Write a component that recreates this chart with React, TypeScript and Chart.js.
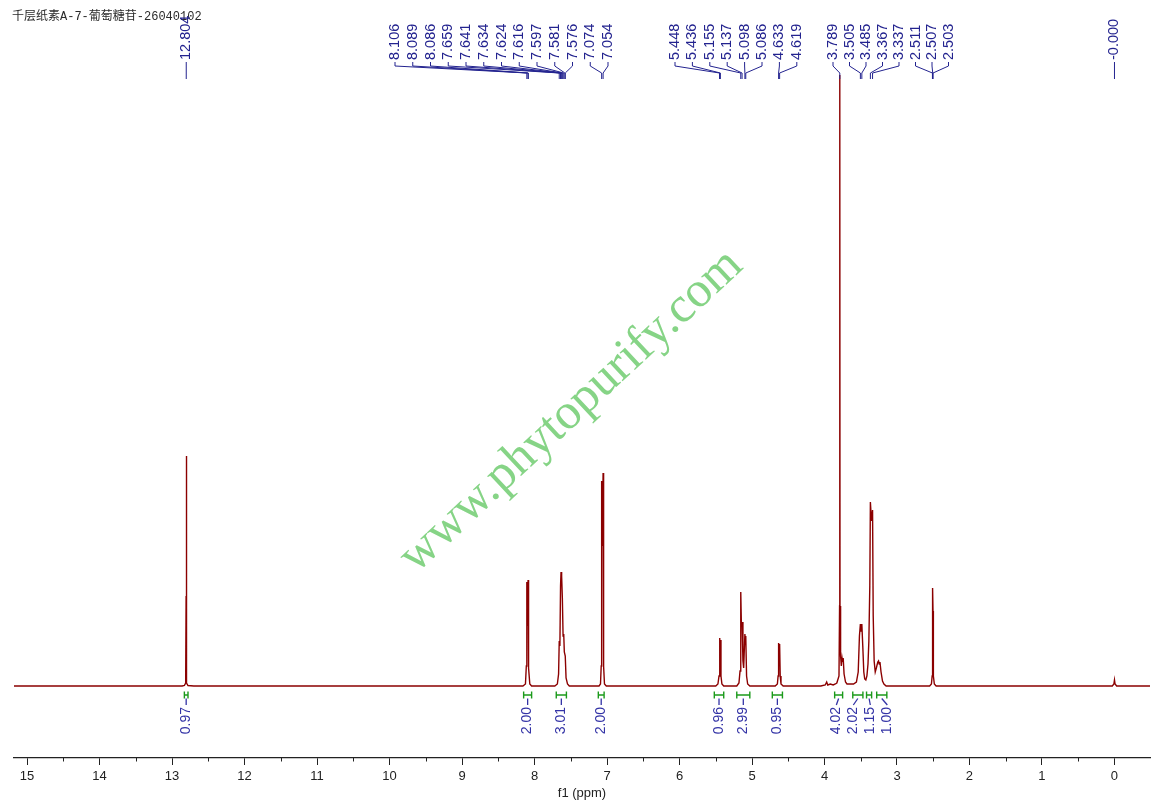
import React, { useEffect, useRef } from 'react';
import { Chart, registerables } from 'chart.js';

Chart.register(...registerables);

// ---------- text ----------
const TITLE = '千层纸素A-7-葡萄糖苷-26040102';
const WATERMARK = 'www.phytopurify.com';
const X_TITLE = 'f1 (ppm)';

// ---------- axis ranges ----------
const X_MIN = -0.49;
const X_MAX = 15.18;
const Y_MIN = -72;
const Y_MAX = 611;
const X_TICKS = [15, 14, 13, 12, 11, 10, 9, 8, 7, 6, 5, 4, 3, 2, 1, 0];

// ---------- spectrum segments: [ppm, intensity] ----------
const BASE_START = [[15.18, 0], [12.86, 0]];
const PEAK_1280 = [[12.83, 0.5], [12.812, 3], [12.806, 90], [12.804, 230], [12.801, 150], [12.796, 3], [12.78, 0.5]];
const BASE_A = [[12.7, 0], [8.2, 0]];
const PEAK_810 = [[8.16, 0], [8.125, 2], [8.113, 20], [8.106, 104], [8.098, 60], [8.089, 106], [8.086, 100], [8.078, 18], [8.065, 2], [8.04, 0]];
const PEAK_762 = [[7.72, 0], [7.685, 2], [7.668, 12], [7.659, 45], [7.65, 40], [7.641, 100], [7.634, 114], [7.628, 108], [7.624, 110], [7.616, 88], [7.606, 50], [7.597, 52], [7.589, 34], [7.581, 34], [7.576, 30], [7.565, 8], [7.545, 2], [7.52, 0]];
const PEAK_706 = [[7.11, 0], [7.09, 2], [7.08, 20], [7.074, 205], [7.064, 140], [7.054, 213], [7.047, 20], [7.035, 2], [7.01, 0]];
const PEAK_544 = [[5.5, 0], [5.47, 2], [5.455, 10], [5.448, 48], [5.442, 38], [5.436, 46], [5.428, 10], [5.415, 2], [5.39, 0]];
const PEAK_512 = [[5.21, 0], [5.18, 3], [5.165, 15], [5.155, 94], [5.146, 60], [5.137, 64], [5.125, 25], [5.115, 18], [5.098, 52], [5.092, 42], [5.086, 50], [5.075, 10], [5.06, 2], [5.03, 0]];
const PEAK_463 = [[4.68, 0], [4.65, 2], [4.64, 10], [4.633, 43], [4.626, 33], [4.619, 42], [4.611, 10], [4.6, 2], [4.57, 0]];
const BASE_B = [[4.05, 0], [3.99, 1], [3.97, 4], [3.955, 1], [3.92, 2], [3.88, 1], [3.85, 2]];
const PEAK_379 = [[3.83, 3], [3.8, 10], [3.792, 80], [3.789, 611], [3.786, 80], [3.778, 30], [3.768, 20], [3.758, 28], [3.75, 24], [3.742, 28], [3.73, 12], [3.71, 4], [3.69, 2], [3.66, 2], [3.6, 2]];
const PEAK_350 = [[3.56, 4], [3.535, 14], [3.518, 50], [3.505, 62], [3.495, 55], [3.485, 62], [3.472, 40], [3.458, 14], [3.445, 7], [3.43, 6]];
const PEAK_335 = [[3.415, 10], [3.4, 22], [3.388, 45], [3.375, 100], [3.367, 184], [3.352, 165], [3.337, 176], [3.328, 70], [3.315, 25], [3.3, 14]];
const PEAK_324 = [[3.285, 18], [3.265, 24], [3.255, 25], [3.245, 22], [3.235, 24], [3.22, 14], [3.2, 5], [3.18, 2], [3.15, 0]];
const BASE_C = [[2.6, 0]];
const PEAK_251 = [[2.55, 0], [2.525, 2], [2.515, 10], [2.511, 60], [2.507, 98], [2.503, 75], [2.498, 10], [2.485, 2], [2.46, 0]];
const BASE_D = [[0.1, 0]];
const PEAK_000 = [[0.03, 0], [0.008, 2], [0.0, 6], [-0.008, 2], [-0.03, 0], [-0.49, 0]];

const SPECTRUM = [
  BASE_START, PEAK_1280, BASE_A, PEAK_810, PEAK_762, PEAK_706, PEAK_544, PEAK_512,
  PEAK_463, BASE_B, PEAK_379, PEAK_350, PEAK_335, PEAK_324, BASE_C, PEAK_251, BASE_D, PEAK_000,
].flat();

// ---------- peak picking labels ----------
const PEAKS_SINGLE_1 = ['12.804'];
const PEAKS_GROUP_A = ['8.106', '8.089', '8.086', '7.659', '7.641', '7.634', '7.624', '7.616', '7.597', '7.581', '7.576', '7.074', '7.054'];
const PEAKS_GROUP_B = ['5.448', '5.436', '5.155', '5.137', '5.098', '5.086', '4.633', '4.619'];
const PEAKS_GROUP_C = ['3.789', '3.505', '3.485', '3.367', '3.337', '2.511', '2.507', '2.503'];
const PEAKS_SINGLE_2 = ['-0.000'];

// ---------- integrals ----------
const INTEGRAL_VALUES = ['0.97', '2.00', '3.01', '2.00', '0.96', '2.99', '0.95', '4.02', '2.02', '1.15', '1.00'];
const INTEGRAL_FROM = [12.83, 8.15, 7.7, 7.12, 5.52, 5.21, 4.72, 3.86, 3.61, 3.42, 3.28];
const INTEGRAL_TO = [12.78, 8.04, 7.56, 7.04, 5.39, 5.03, 4.58, 3.75, 3.47, 3.35, 3.14];

// ---------- layout / style constants ----------
const LABEL_LAYOUT = [
  { labels: PEAKS_SINGLE_1, start: null as number | null, step: 0 },
  { labels: PEAKS_GROUP_A, start: 395, step: 17.75 },
  { labels: PEAKS_GROUP_B, start: 675, step: 17.4 },
  { labels: PEAKS_GROUP_C, start: 833, step: 16.5 },
  { labels: PEAKS_SINGLE_2, start: null as number | null, step: 0 },
];
const SPEC_COLOR = '#8b0000';
const LABEL_COLOR = '#23238f';
const INT_LABEL_COLOR = '#3333a6';
const INT_BRACKET_COLOR = '#1b9a1b';
const AXIS_COLOR = '#222222';

function spreadLabels(xs: number[], gap: number): number[] {
  const order = xs.map((_, i) => i).sort((a, b) => xs[a] - xs[b]);
  const cl: { ids: number[]; sum: number }[] = [];
  for (const i of order) {
    cl.push({ ids: [i], sum: xs[i] });
    while (cl.length > 1) {
      const b = cl[cl.length - 1];
      const a = cl[cl.length - 2];
      const aEnd = a.sum / a.ids.length + ((a.ids.length - 1) * gap) / 2;
      const bStart = b.sum / b.ids.length - ((b.ids.length - 1) * gap) / 2;
      if (bStart - aEnd < gap) {
        a.ids.push(...b.ids);
        a.sum += b.sum;
        cl.pop();
      } else break;
    }
  }
  const out: number[] = new Array(xs.length);
  for (const c of cl) {
    const n = c.ids.length;
    const s = c.sum / n - ((n - 1) * gap) / 2;
    c.ids.forEach((id, k) => (out[id] = s + k * gap));
  }
  return out;
}

const annotationPlugin = {
  id: 'nmrAnnotations',
  beforeDatasetsDraw(chart: any) {
    const ctx = chart.ctx;
    ctx.save();
    ctx.translate(416, 574);
    ctx.rotate((-43 * Math.PI) / 180);
    ctx.font = '50px "Liberation Serif", "DejaVu Serif", serif';
    ctx.fillStyle = '#86d486';
    ctx.textBaseline = 'alphabetic';
    ctx.textAlign = 'left';
    ctx.fillText(WATERMARK, 0, 0);
    ctx.restore();
  },
  afterDraw(chart: any) {
    const ctx = chart.ctx;
    const xs = chart.scales.x;
    const area = chart.chartArea;

    // title
    ctx.save();
    ctx.font = '12px "Liberation Mono", "Noto Sans CJK SC", monospace';
    ctx.fillStyle = '#2a2a2a';
    ctx.textBaseline = 'middle';
    ctx.textAlign = 'left';
    ctx.fillText(TITLE, 12, 17);
    ctx.restore();

    // minor ticks
    ctx.save();
    ctx.strokeStyle = AXIS_COLOR;
    ctx.lineWidth = 1;
    for (let v = -0.5; v <= 15.5; v += 1) {
      const px = xs.getPixelForValue(v);
      if (px < area.left || px > area.right) continue;
      ctx.beginPath();
      ctx.moveTo(Math.round(px) + 0.5, area.bottom);
      ctx.lineTo(Math.round(px) + 0.5, area.bottom + 3.5);
      ctx.stroke();
    }
    ctx.restore();

    // peak labels
    ctx.save();
    ctx.font = '14.5px "Liberation Sans", Arial, sans-serif';
    ctx.fillStyle = LABEL_COLOR;
    ctx.strokeStyle = LABEL_COLOR;
    ctx.lineWidth = 1;
    ctx.textBaseline = 'middle';
    ctx.textAlign = 'left';
    const textY = 60;
    for (const g of LABEL_LAYOUT) {
      g.labels.forEach((lab, k) => {
        const ppm = parseFloat(lab);
        const px = xs.getPixelForValue(ppm);
        const lx = g.start === null ? px : g.start + k * g.step;
        ctx.save();
        ctx.translate(lx, textY);
        ctx.rotate(-Math.PI / 2);
        ctx.fillText(lab, 0, 0);
        ctx.restore();
        ctx.beginPath();
        ctx.moveTo(lx, textY + 2);
        ctx.lineTo(lx, textY + 6);
        ctx.lineTo(px, textY + 13);
        ctx.lineTo(px, textY + 19);
        ctx.stroke();
      });
    }
    ctx.restore();

    // integrals
    const centers = INTEGRAL_FROM.map((f, i) => (xs.getPixelForValue(f) + xs.getPixelForValue(INTEGRAL_TO[i])) / 2);
    const labelXs = spreadLabels(centers, 17);
    const yB = chart.scales.y.getPixelForValue(-9);
    ctx.save();
    INTEGRAL_VALUES.forEach((val, i) => {
      const x1 = xs.getPixelForValue(INTEGRAL_FROM[i]);
      const x2 = xs.getPixelForValue(INTEGRAL_TO[i]);
      ctx.strokeStyle = INT_BRACKET_COLOR;
      ctx.lineWidth = 1.4;
      ctx.beginPath();
      ctx.moveTo(x1, yB - 3.5);
      ctx.lineTo(x1, yB + 3.5);
      ctx.moveTo(x2, yB - 3.5);
      ctx.lineTo(x2, yB + 3.5);
      ctx.moveTo(x1, yB);
      ctx.lineTo(x2, yB);
      ctx.stroke();
      const lx = labelXs[i];
      ctx.strokeStyle = INT_LABEL_COLOR;
      ctx.lineWidth = 1.3;
      ctx.beginPath();
      ctx.moveTo(centers[i], yB + 3.5);
      ctx.lineTo(lx, yB + 10);
      ctx.stroke();
      ctx.save();
      ctx.translate(lx, yB + 12);
      ctx.rotate(-Math.PI / 2);
      ctx.font = '14px "Liberation Sans", Arial, sans-serif';
      ctx.fillStyle = INT_LABEL_COLOR;
      ctx.textBaseline = 'middle';
      ctx.textAlign = 'right';
      ctx.fillText(val, 0, 0);
      ctx.restore();
    });
    ctx.restore();
  },
};

export default function App() {
  const canvasRef = useRef<HTMLCanvasElement | null>(null);

  useEffect(() => {
    document.body.style.margin = '0';
    const canvas = canvasRef.current;
    if (!canvas) return;
    const chart = new Chart(canvas, {
      type: 'line',
      data: {
        datasets: [
          {
            data: SPECTRUM.map(([x, y]) => ({ x, y })),
            borderColor: SPEC_COLOR,
            borderWidth: 1.4,
            pointRadius: 0,
            tension: 0,
            fill: false,
          },
        ],
      },
      options: {
        animation: false,
        responsive: false,
        devicePixelRatio: 1,
        layout: { padding: { left: 14, right: 10, top: 75, bottom: 0 } },
        plugins: { legend: { display: false }, tooltip: { enabled: false } },
        scales: {
          x: {
            type: 'linear',
            reverse: true,
            min: X_MIN,
            max: X_MAX,
            afterFit: (scale: any) => {
              scale.height = 54;
            },
            afterBuildTicks: (scale: any) => {
              scale.ticks = X_TICKS.map((v) => ({ value: v }));
            },
            ticks: {
              autoSkip: false,
              maxRotation: 0,
              padding: 4,
              color: AXIS_COLOR,
              font: { family: '"Liberation Sans", Arial, sans-serif', size: 13 },
              callback: (v: any) => String(v),
            },
            grid: {
              display: true,
              drawOnChartArea: false,
              drawTicks: true,
              tickLength: 7,
              color: AXIS_COLOR,
              lineWidth: 1,
            },
            border: { display: true, color: AXIS_COLOR, width: 1.3 },
            title: {
              display: true,
              text: X_TITLE,
              color: AXIS_COLOR,
              font: { family: '"Liberation Sans", Arial, sans-serif', size: 13 },
              padding: { top: 0, bottom: 11 },
            },
          },
          y: {
            type: 'linear',
            display: false,
            min: Y_MIN,
            max: Y_MAX,
          },
        },
      },
      plugins: [annotationPlugin],
    } as any);
    return () => chart.destroy();
  }, []);

  return (
    <div style={{ position: 'absolute', left: 0, top: 0, width: 1160, height: 812, background: '#fff' }}>
      <canvas ref={canvasRef} width={1160} height={812} style={{ width: 1160, height: 812, display: 'block' }} />
    </div>
  );
}
